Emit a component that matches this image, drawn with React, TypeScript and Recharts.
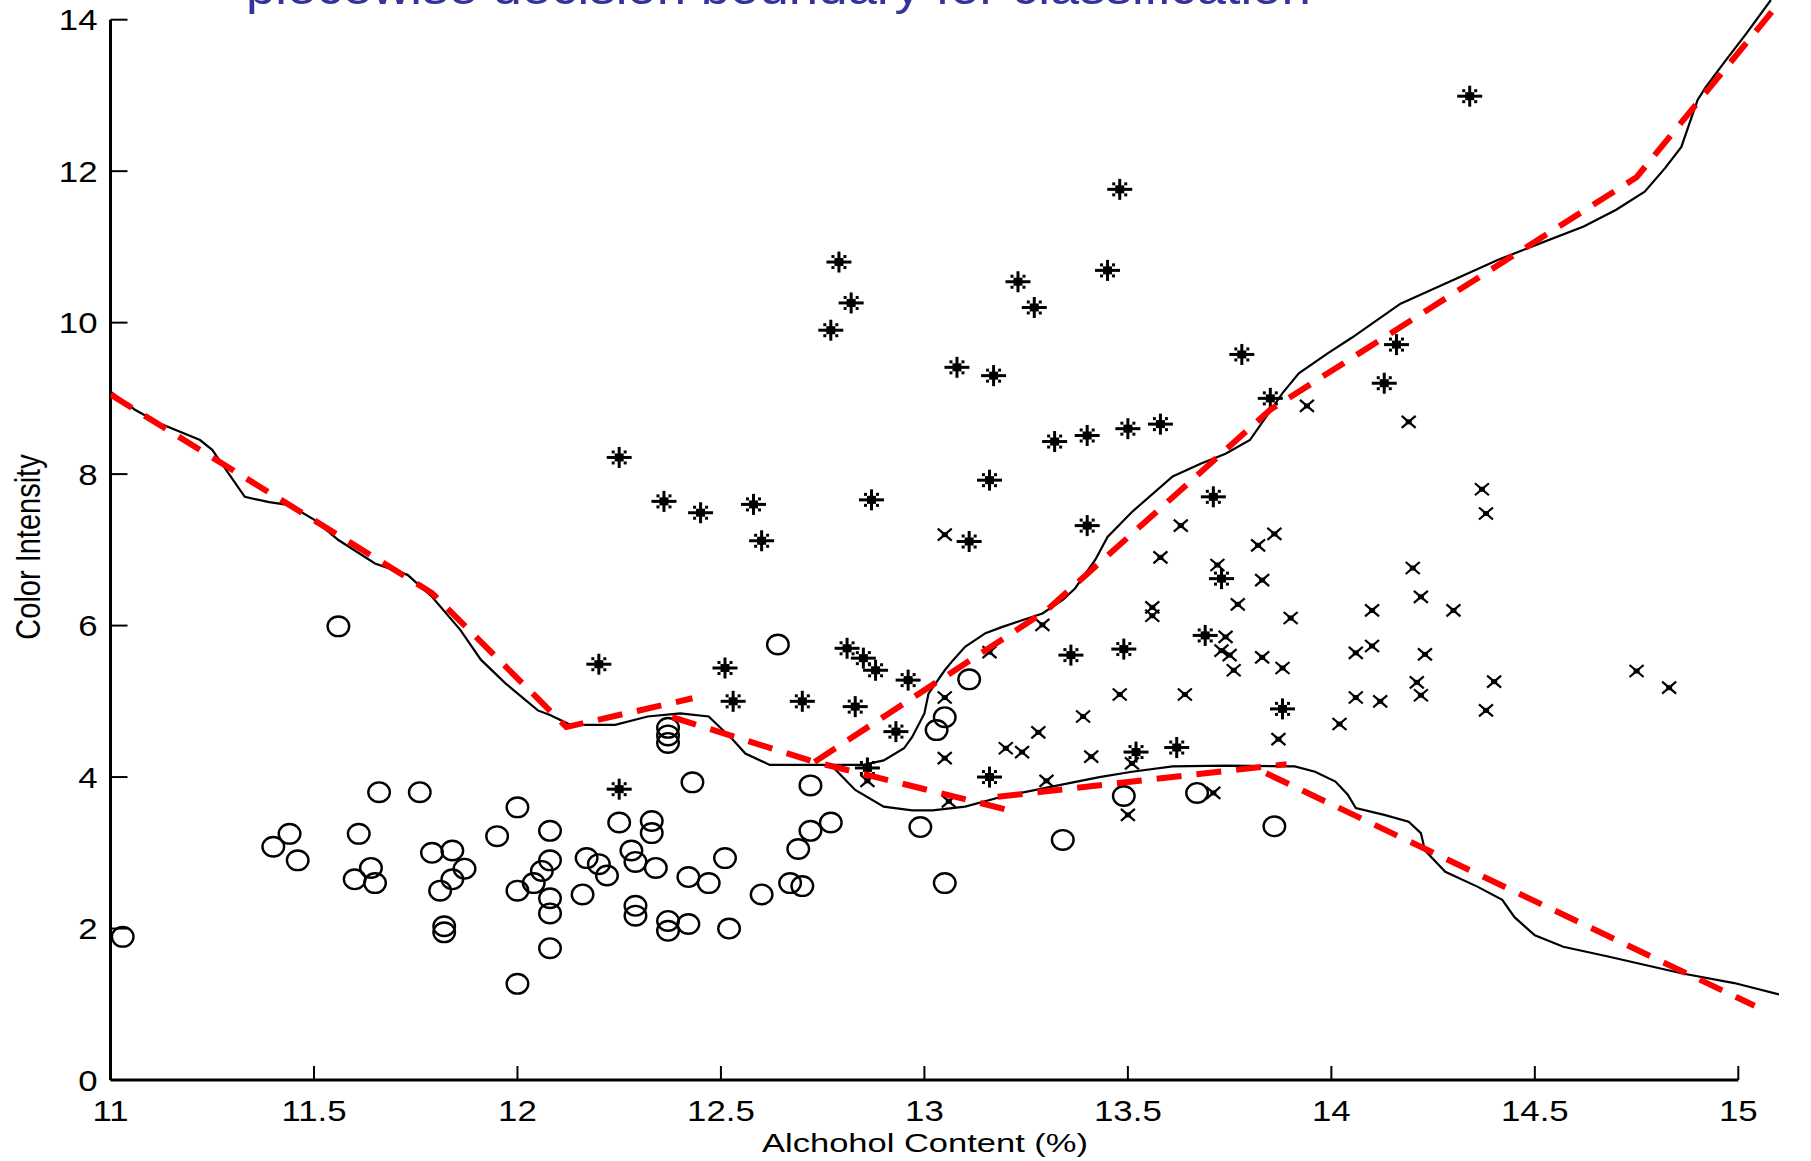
import React from 'react';
import { ScatterChart, Scatter, XAxis, YAxis, ReferenceLine } from 'recharts';

const xTicks = [11, 11.5, 12, 12.5, 13, 13.5, 14, 14.5, 15];
const yTicks = [0, 2, 4, 6, 8, 10, 12, 14];

const titleText = 'piecewise decision boundary for classification';
const xLabel = 'Alchohol Content (%)';
const yLabel = 'Color Intensity';

// class drawn with open circles
const circlePts: [number, number][] = [
  [11.03, 1.89], [11.56, 5.99], [11.40, 3.08], [11.44, 3.25], [11.46, 2.90], [11.61, 3.25],
  [11.60, 2.65], [11.64, 2.80], [11.65, 2.60], [11.66, 3.80], [11.76, 3.80], [11.79, 3.00],
  [11.84, 3.03], [11.81, 2.50], [11.84, 2.65], [11.87, 2.79], [11.82, 2.03], [11.82, 1.95],
  [11.95, 3.22], [12.00, 3.60], [12.00, 2.50], [12.00, 1.27], [12.04, 2.60], [12.06, 2.76],
  [12.08, 2.90], [12.08, 3.29], [12.08, 2.40], [12.08, 2.20], [12.08, 1.74], [12.16, 2.45],
  [12.17, 2.93], [12.20, 2.85], [12.22, 2.70], [12.25, 3.40], [12.28, 3.03], [12.29, 2.88],
  [12.29, 2.30], [12.29, 2.17], [12.33, 3.42], [12.33, 3.26], [12.34, 2.80], [12.37, 4.65],
  [12.37, 4.55], [12.37, 4.45], [12.37, 2.10], [12.37, 1.97], [12.42, 2.06], [12.43, 3.93],
  [12.42, 2.68], [12.47, 2.60], [12.51, 2.93], [12.52, 2.00], [12.60, 2.45], [12.64, 5.75],
  [12.67, 2.60], [12.69, 3.05], [12.70, 2.56], [12.72, 3.29], [12.72, 3.89], [12.77, 3.40],
  [12.99, 3.34], [13.03, 4.62], [13.05, 4.79], [13.05, 2.60], [13.11, 5.29], [13.34, 3.17],
  [13.49, 3.75], [13.67, 3.79], [13.86, 3.35],
];

// class drawn with asterisks
const starPts: [number, number][] = [
  [12.25, 8.22], [12.20, 5.49], [12.25, 3.84], [12.36, 7.64], [12.45, 7.49], [12.51, 5.44],
  [12.53, 5.00], [12.58, 7.60], [12.60, 7.12], [12.70, 5.00], [12.79, 10.80], [12.77, 9.90],
  [12.82, 10.26], [12.87, 7.66], [12.81, 5.70], [12.85, 5.57], [12.88, 5.41], [12.83, 4.93],
  [12.93, 4.60], [12.96, 5.28], [12.86, 4.12], [13.08, 9.41], [13.17, 9.30], [13.11, 7.11],
  [13.16, 7.92], [13.23, 10.54], [13.27, 10.20], [13.16, 4.00], [13.32, 8.43], [13.40, 8.51],
  [13.40, 7.32], [13.36, 5.61], [13.48, 11.76], [13.45, 10.69], [13.50, 8.60], [13.58, 8.66],
  [13.49, 5.69], [13.52, 4.33], [13.62, 4.39], [13.71, 7.70], [13.73, 6.62], [13.69, 5.87],
  [13.78, 9.58], [13.85, 9.00], [13.88, 4.90], [14.13, 9.20], [14.16, 9.71], [14.34, 12.99],
];

// class drawn with x marks
const crossPts: [number, number][] = [
  [13.05, 7.20], [13.94, 8.90], [14.19, 8.69], [13.63, 7.32], [13.86, 7.21], [13.82, 7.06],
  [13.58, 6.90], [13.72, 6.80], [13.83, 6.60], [14.37, 7.80], [14.38, 7.48], [14.20, 6.76],
  [14.22, 6.38], [14.10, 6.20], [14.30, 6.20], [13.77, 6.28], [13.56, 6.24], [13.56, 6.13],
  [13.90, 6.10], [13.29, 6.01], [13.74, 5.85], [13.73, 5.67], [13.75, 5.61], [13.76, 5.41],
  [13.83, 5.58], [13.88, 5.44], [13.16, 5.65], [14.10, 5.73], [14.06, 5.64], [14.23, 5.62],
  [14.40, 5.26], [14.21, 5.25], [14.22, 5.08], [14.06, 5.05], [14.12, 5.00], [14.38, 4.88],
  [14.75, 5.40], [14.83, 5.18], [13.05, 5.05], [13.48, 5.09], [13.64, 5.09], [14.02, 4.70],
  [13.39, 4.80], [13.87, 4.50], [13.28, 4.59], [13.20, 4.38], [13.24, 4.33], [13.05, 4.25],
  [13.41, 4.27], [13.51, 4.18], [13.30, 3.95], [13.06, 3.68], [13.50, 3.50], [13.71, 3.79],
  [12.86, 3.95],
];

// smooth (black) decision boundary: left part + upper branch
const boundaryUpper: [number, number][] = [
  [11.00, 9.09], [11.06, 8.85], [11.12, 8.67], [11.22, 8.45], [11.25, 8.32], [11.29, 8.01],
  [11.33, 7.70], [11.39, 7.63], [11.44, 7.59], [11.50, 7.40], [11.56, 7.13], [11.65, 6.82],
  [11.73, 6.67], [11.79, 6.38], [11.86, 5.94], [11.91, 5.55], [11.97, 5.24], [12.05, 4.88],
  [12.08, 4.82], [12.13, 4.69], [12.24, 4.69], [12.32, 4.80], [12.40, 4.84], [12.47, 4.80],
  [12.53, 4.49], [12.56, 4.31], [12.62, 4.16], [12.73, 4.16], [12.85, 4.16], [12.90, 4.22],
  [12.95, 4.38], [12.97, 4.53], [13.00, 4.84], [13.01, 5.10], [13.05, 5.41], [13.07, 5.54],
  [13.10, 5.72], [13.15, 5.90], [13.19, 5.98], [13.24, 6.07], [13.29, 6.16], [13.34, 6.34],
  [13.37, 6.49], [13.42, 6.87], [13.45, 7.17], [13.51, 7.50], [13.61, 7.97], [13.68, 8.14],
  [13.74, 8.27], [13.80, 8.45], [13.84, 8.76], [13.88, 9.07], [13.92, 9.33], [13.99, 9.59],
  [14.05, 9.80], [14.17, 10.25], [14.29, 10.54], [14.41, 10.83], [14.50, 11.02], [14.62, 11.27],
  [14.70, 11.49], [14.77, 11.73], [14.82, 12.04], [14.86, 12.32], [14.88, 12.63], [14.90, 12.94],
  [14.92, 13.11], [14.97, 13.47], [15.02, 13.82], [15.08, 14.26],
];

// smooth (black) decision boundary: lower branch
const boundaryLower: [number, number][] = [
  [12.77, 4.16], [12.79, 4.05], [12.83, 3.83], [12.90, 3.61], [12.97, 3.56], [13.02, 3.56],
  [13.10, 3.61], [13.19, 3.74], [13.31, 3.87], [13.43, 4.00], [13.51, 4.07], [13.61, 4.14],
  [13.74, 4.15], [13.91, 4.14], [13.96, 4.07], [14.01, 3.94], [14.04, 3.77], [14.06, 3.59],
  [14.13, 3.50], [14.19, 3.41], [14.22, 3.26], [14.23, 3.03], [14.28, 2.75], [14.36, 2.55],
  [14.42, 2.38], [14.45, 2.15], [14.50, 1.91], [14.57, 1.76], [14.68, 1.63], [14.86, 1.41],
  [14.99, 1.28], [15.10, 1.13],
];

// piecewise linear (red dashed) boundary
const pieceA: [number, number][] = [[11.00, 9.05], [11.79, 6.43], [12.12, 4.66], [12.43, 5.04]];
const pieceB: [number, number][] = [[12.38, 4.79], [12.73, 4.20], [13.21, 3.56]];
const pieceC: [number, number][] = [[13.18, 3.74], [13.89, 4.17]];
const pieceD: [number, number][] = [[12.73, 4.20], [13.30, 6.20], [13.85, 8.85], [14.75, 11.92], [15.10, 14.22]];
const pieceE: [number, number][] = [[13.84, 4.05], [15.04, 0.98]];

const toXY = (pts: [number, number][]) => pts.map(([x, y]) => ({ x, y }));

const FONT = '"Liberation Sans", Arial, Helvetica, sans-serif';

const CircleMark = (p: any) => (
  <ellipse cx={p.cx} cy={p.cy} rx={10.8} ry={9.8} fill="none" stroke="#000" strokeWidth={2.4} />
);

const StarMark = (p: any) => {
  const { cx, cy } = p;
  return (
    <g>
      <line x1={cx - 12.5} y1={cy} x2={cx + 12.5} y2={cy} stroke="#000" strokeWidth={3} />
      <line x1={cx} y1={cy - 10.5} x2={cx} y2={cy + 10.5} stroke="#000" strokeWidth={3} />
      <rect x={cx - 4.5} y={cy - 4} width={9} height={8} fill="#000" />
      <rect x={cx - 7.5} y={cy - 7} width={3} height={3} fill="#000" />
      <rect x={cx + 4.5} y={cy - 7} width={3} height={3} fill="#000" />
      <rect x={cx - 7.5} y={cy + 4} width={3} height={3} fill="#000" />
      <rect x={cx + 4.5} y={cy + 4} width={3} height={3} fill="#000" />
    </g>
  );
};

const CrossMark = (p: any) => {
  const { cx, cy } = p;
  return (
    <g>
      <line x1={cx - 7} y1={cy - 6} x2={cx + 7} y2={cy + 6} stroke="#000" strokeWidth={2.2} />
      <line x1={cx - 7} y1={cy + 6} x2={cx + 7} y2={cy - 6} stroke="#000" strokeWidth={2.2} />
      <rect x={cx - 3} y={cy - 2.5} width={6} height={5} fill="#000" />
    </g>
  );
};

const NoMark = () => <g />;

const XTick = (props: any) => {
  const { x, y, payload } = props;
  return (
    <g transform={`translate(${x},${y + 21})`}>
      <text textAnchor="middle" transform="scale(1.2,1)" fontFamily={FONT} fontSize={29} fill="#000">
        {String(payload.value)}
      </text>
    </g>
  );
};

const YTick = (props: any) => {
  const { x, y, payload } = props;
  return (
    <g transform={`translate(${x},${y + 10.5})`}>
      <text textAnchor="end" transform="scale(1.2,1)" fontFamily={FONT} fontSize={29} fill="#000">
        {String(payload.value)}
      </text>
    </g>
  );
};

const redLine = { stroke: '#ff0000', strokeWidth: 6, strokeDasharray: '25 15', fill: 'none' };
const blackLine = { stroke: '#000000', strokeWidth: 2.2, fill: 'none' };

export default function App() {
  return (
    <div style={{ position: 'absolute', left: 0, top: 0, width: 1811, height: 1161, background: '#fff' }}>
      <ScatterChart width={1811} height={1161} margin={{ top: 0, right: 32, bottom: 0, left: 0 }}>
        <XAxis
          type="number"
          dataKey="x"
          domain={[11, 15.1]}
          allowDataOverflow
          ticks={xTicks}
          interval={0}
          height={81}
          axisLine={false}
          tickLine={{ stroke: '#000', strokeWidth: 2 }}
          tickSize={-14}
          tickMargin={34}
          tick={(p: any) => <XTick {...p} />}
        />
        <YAxis
          type="number"
          dataKey="y"
          domain={[0, 14.26]}
          allowDataOverflow
          ticks={yTicks}
          interval={0}
          width={110.5}
          axisLine={false}
          tickLine={{ stroke: '#000', strokeWidth: 2 }}
          tickSize={-17}
          tickMargin={30}
          tick={(p: any) => <YTick {...p} />}
        />
        <ReferenceLine segment={[{ x: 11, y: 0 }, { x: 15, y: 0 }]} stroke="#000" strokeWidth={3} />
        <ReferenceLine segment={[{ x: 11, y: 0 }, { x: 11, y: 14 }]} stroke="#000" strokeWidth={3} />
        <Scatter data={toXY(circlePts)} shape={CircleMark} isAnimationActive={false} />
        <Scatter data={toXY(starPts)} shape={StarMark} isAnimationActive={false} />
        <Scatter data={toXY(crossPts)} shape={CrossMark} isAnimationActive={false} />
        <Scatter data={toXY(boundaryUpper)} line={blackLine} lineType="joint" shape={NoMark} isAnimationActive={false} />
        <Scatter data={toXY(boundaryLower)} line={blackLine} lineType="joint" shape={NoMark} isAnimationActive={false} />
        <Scatter data={toXY(pieceA)} line={redLine} lineType="joint" shape={NoMark} isAnimationActive={false} />
        <Scatter data={toXY(pieceB)} line={redLine} lineType="joint" shape={NoMark} isAnimationActive={false} />
        <Scatter data={toXY(pieceC)} line={redLine} lineType="joint" shape={NoMark} isAnimationActive={false} />
        <Scatter data={toXY(pieceD)} line={redLine} lineType="joint" shape={NoMark} isAnimationActive={false} />
        <Scatter data={toXY(pieceE)} line={redLine} lineType="joint" shape={NoMark} isAnimationActive={false} />
      </ScatterChart>
      <svg width={1811} height={1161} style={{ position: 'absolute', left: 0, top: 0, pointerEvents: 'none' }}>
        <text transform="translate(246,4) scale(1.1,1)" fontFamily={FONT} fontSize={48} fill="#333399">
          {titleText}
        </text>
        <text transform="translate(925,1152) scale(1.38,1)" textAnchor="middle" fontFamily={FONT} fontSize={25} fill="#000">
          {xLabel}
        </text>
        <text transform="translate(40,547) rotate(-90) scale(1,1.2)" textAnchor="middle" fontFamily={FONT} fontSize={29} fill="#000">
          {yLabel}
        </text>
      </svg>
    </div>
  );
}
